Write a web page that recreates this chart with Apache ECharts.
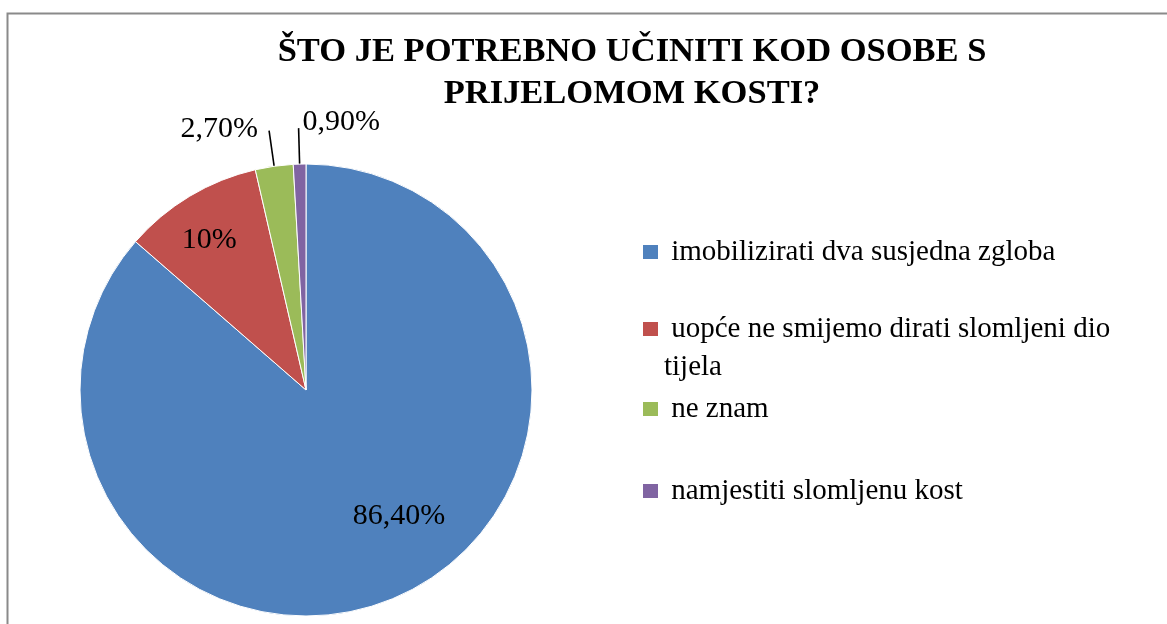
<!DOCTYPE html>
<html lang="hr">
<head>
    <meta charset="UTF-8">
    <title>Što je potrebno učiniti kod osobe s prijelomom kosti?</title>
    <style>
        html, body { margin: 0; padding: 0; background: #fff; }
        #chart { width: 1167px; height: 624px; }
    </style>
    <script src="https://cdn.jsdelivr.net/npm/echarts@6/dist/echarts.min.js"></script>
</head>
<body>
    <div id="chart"></div>
    <script>
        // chart data
        var titleText = 'ŠTO JE POTREBNO UČINITI KOD OSOBE S\nPRIJELOMOM KOSTI?';
        var categories = [
            'imobilizirati dva susjedna zgloba',
            'uopće ne smijemo dirati slomljeni dio tijela',
            'ne znam',
            'namjestiti slomljenu kost'
        ];
        var values = [86.4, 10, 2.7, 0.9];
        var valueLabels = ['86,40%', '10%', '2,70%', '0,90%'];
        var colors = ['#4F81BD', '#C0504D', '#9BBB59', '#8064A2'];

        var serif = '"Liberation Serif", "Times New Roman", serif';

        var chart = echarts.init(document.getElementById('chart'));

        var pieData = categories.map(function (name, i) {
            var item = {
                name: name,
                value: values[i],
                itemStyle: { color: colors[i] }
            };
            if (i < 2) {
                item.label = { position: 'inside' };
                item.labelLine = { show: false };
            } else {
                item.label = { position: 'outside' };
                item.labelLine = { show: true };
            }
            return item;
        });

        // legend: one component per item so the spacing can follow the original
        var legendTops = [235, 272, 392, 474];
        var legends = categories.map(function (name, i) {
            var twoLine = i === 1;
            return {
                data: [name],
                left: 641,
                top: legendTops[i],
                padding: 0,
                orient: 'vertical',
                icon: 'rect',
                itemWidth: 17,
                itemHeight: 16,
                selectedMode: false,
                formatter: function (n) {
                    // the wrapped item gets an empty first line so the
                    // square sits next to its first text line
                    return twoLine ? '\n ' + n.replace(' tijela', '\ntijela') : ' ' + n;
                },
                textStyle: {
                    fontFamily: serif,
                    fontSize: 29,
                    color: '#000',
                    lineHeight: twoLine ? 38 : 34
                }
            };
        });

        var option = {
            backgroundColor: '#fff',
            animation: false,
            title: {
                text: titleText,
                left: 627,
                top: 26,
                textAlign: 'center',
                textStyle: {
                    fontFamily: serif,
                    fontWeight: 'bold',
                    fontSize: 34.5,
                    lineHeight: 42,
                    color: '#000'
                }
            },
            legend: legends,
            graphic: [{
                type: 'rect',
                shape: { x: 7.5, y: 13.5, width: 1300, height: 700 },
                style: { fill: 'none', stroke: '#8a8a8a', lineWidth: 2 },
                silent: true
            }],
            series: [{
                type: 'pie',
                center: [306, 390],
                radius: 226,
                startAngle: 90,
                clockwise: true,
                avoidLabelOverlap: false,
                itemStyle: { borderColor: '#fff', borderWidth: 1 },
                label: {
                    fontFamily: serif,
                    fontSize: 30,
                    color: '#000',
                    distanceToLabelLine: 8,
                    formatter: function (p) { return valueLabels[p.dataIndex]; }
                },
                labelLine: {
                    length: 36,
                    length2: 0,
                    lineStyle: { color: '#000', width: 1.6 }
                },
                labelLayout: function (p) {
                    if (p.dataIndex === 0) return { dx: 45, dy: 21 };
                    if (p.dataIndex === 1) return { dx: -37, dy: -50 };
                    if (p.dataIndex === 2) return { dx: -3, dy: -1 };
                    if (p.dataIndex === 3) return { align: 'left', dx: 12, dy: -6 };
                    return {};
                },
                emphasis: { disabled: true },
                data: pieData
            }]
        };

        chart.setOption(option);
    </script>
</body>
</html>
